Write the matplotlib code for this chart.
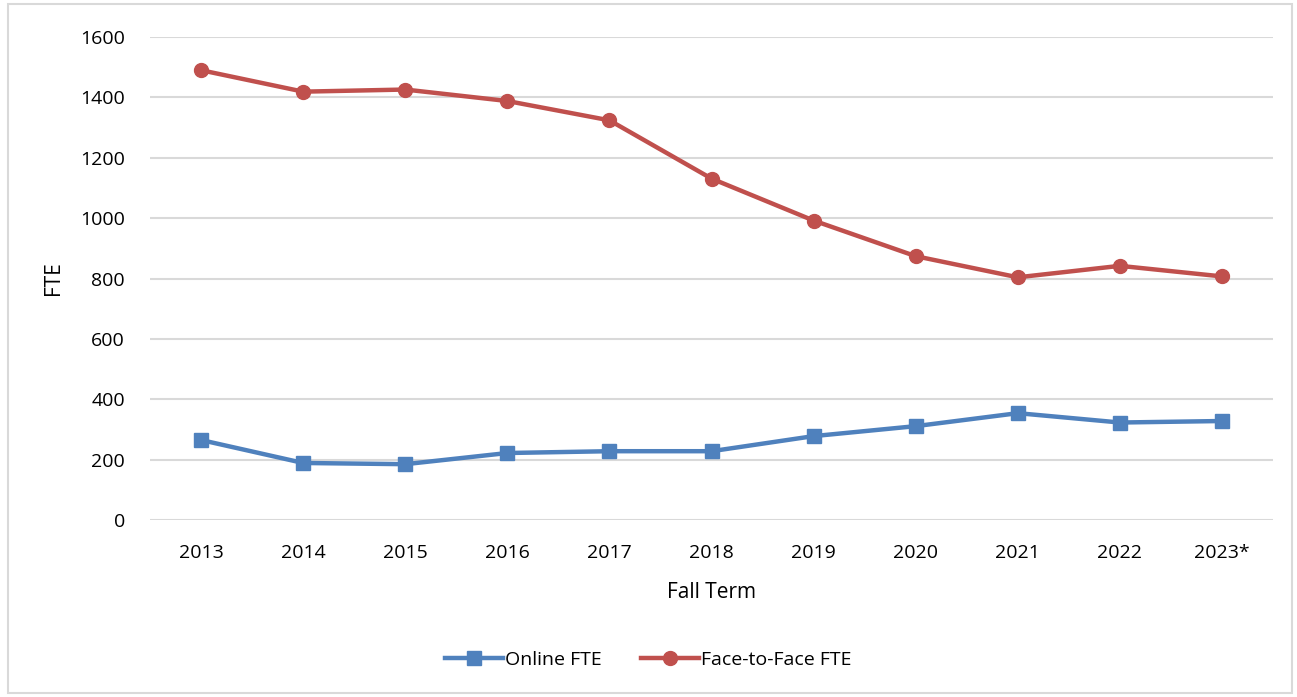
import matplotlib.pyplot as plt
from matplotlib.patches import Rectangle

plt.rcParams['font.family'] = ['Open Sans', 'DejaVu Sans']

terms = ["2013", "2014", "2015", "2016", "2017", "2018", "2019", "2020", "2021", "2022", "2023*"]
online_fte = [265, 189, 185, 222, 228, 228, 278, 311, 354, 323, 328]
f2f_fte = [1490, 1419, 1426, 1388, 1324, 1131, 992, 874, 804, 842, 807]

fig = plt.figure(figsize=(12.97, 6.97), dpi=100)
ax = fig.add_axes([0.1157, 0.2539, 0.8658, 0.693])

x = range(len(terms))
ax.plot(x, online_fte, color="#4F81BD", lw=3.2, marker="s", markersize=10, label="Online FTE")
ax.plot(x, f2f_fte, color="#C0504D", lw=3.2, marker="o", markersize=10, label="Face-to-Face FTE")

ax.set_xlim(-0.5, len(terms) - 0.5)
ax.set_ylim(0, 1600)
ax.set_yticks(range(0, 1601, 200))
ax.set_xticks(list(x))
ax.set_xticklabels(terms)
ax.grid(axis="y", color="#D9D9D9", lw=1.5)
ax.set_axisbelow(True)
for s in ax.spines.values():
    s.set_visible(False)
ax.tick_params(length=0, labelsize=14, pad=17)
ax.tick_params(axis="y", pad=18)

ax.set_xlabel("Fall Term", fontsize=15, labelpad=15)
ax.set_ylabel("FTE", fontsize=15, labelpad=12)

fig.legend(loc="center", bbox_to_anchor=(0.5, 0.053), ncol=2, frameon=False,
           fontsize=14, handlelength=3.0, columnspacing=2.0, handletextpad=0.1)

fig.patches.append(Rectangle((0.006, 0.006), 0.99, 0.988, transform=fig.transFigure,
                             fill=False, edgecolor="#D9D9D9", lw=1.5))

fig.savefig("out.png", dpi=100)
